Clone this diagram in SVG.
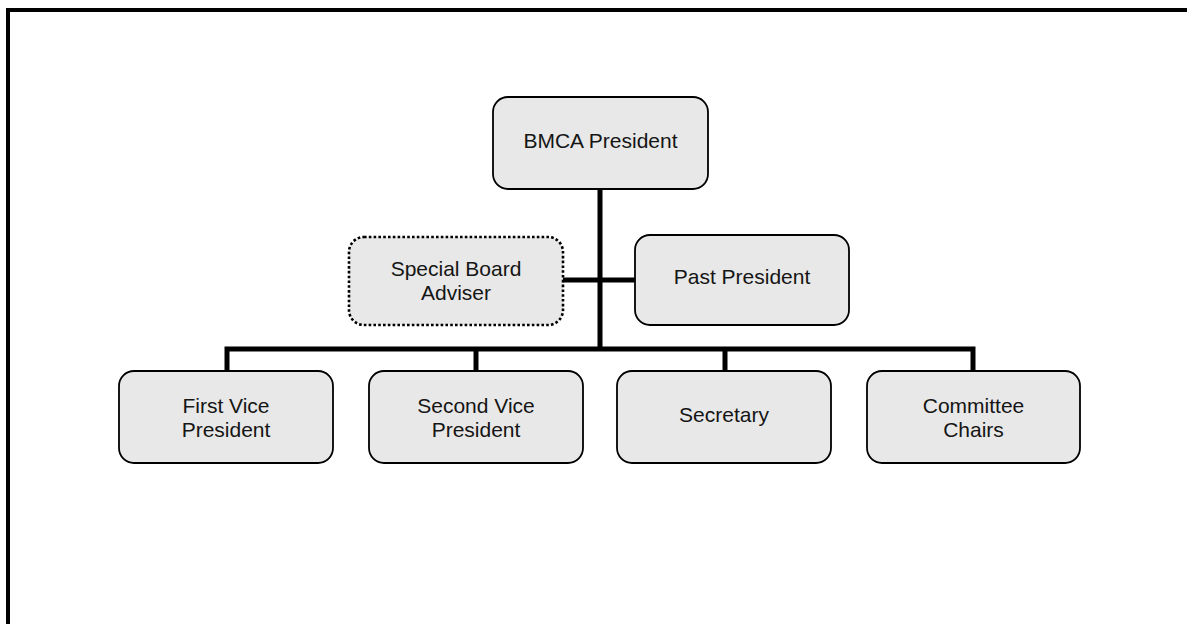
<svg xmlns="http://www.w3.org/2000/svg" width="1187" height="624" viewBox="0 0 1187 624">
<style>
.node{fill:#e8e8e8;stroke:#000;stroke-width:1.8}
.dot{fill:#e8e8e8;stroke:#000;stroke-width:2.6;stroke-dasharray:2.6 2.2}
.lbl{font-family:"Liberation Sans",Arial,sans-serif;font-size:21px;fill:#151515;text-anchor:middle}
.con{fill:none;stroke:#000;stroke-width:5}
</style>
<rect x="0" y="0" width="1187" height="624" fill="#fff"/>
<rect x="8" y="10" width="1300" height="700" fill="none" stroke="#000" stroke-width="4"/>
<g id="connectors">
<line class="con" x1="600" y1="189" x2="600" y2="349"/>
<line class="con" x1="563" y1="280" x2="635" y2="280"/>
<polyline class="con" points="227,371 227,349 973,349 973,371"/>
<line class="con" x1="476" y1="349" x2="476" y2="371"/>
<line class="con" x1="725" y1="349" x2="725" y2="371"/>
</g>
<g id="bmca-president">
<rect class="node" x="493" y="97" width="215" height="92" rx="15"/>
<text class="lbl" x="600.5" y="148">BMCA President</text>
</g>
<g id="special-board-adviser">
<rect class="dot" x="349" y="237" width="214" height="88" rx="15"/>
<text class="lbl" x="456" y="276">Special Board</text>
<text class="lbl" x="456" y="300">Adviser</text>
</g>
<g id="past-president">
<rect class="node" x="635" y="235" width="214" height="90" rx="15"/>
<text class="lbl" x="742" y="284">Past President</text>
</g>
<g id="first-vice-president">
<rect class="node" x="119" y="371" width="214" height="92" rx="15"/>
<text class="lbl" x="226" y="413">First Vice</text>
<text class="lbl" x="226" y="437">President</text>
</g>
<g id="second-vice-president">
<rect class="node" x="369" y="371" width="214" height="92" rx="15"/>
<text class="lbl" x="476" y="413">Second Vice</text>
<text class="lbl" x="476" y="437">President</text>
</g>
<g id="secretary">
<rect class="node" x="617" y="371" width="214" height="92" rx="15"/>
<text class="lbl" x="724" y="422">Secretary</text>
</g>
<g id="committee-chairs">
<rect class="node" x="867" y="371" width="213" height="92" rx="15"/>
<text class="lbl" x="973.5" y="413">Committee</text>
<text class="lbl" x="973.5" y="437">Chairs</text>
</g>
</svg>
